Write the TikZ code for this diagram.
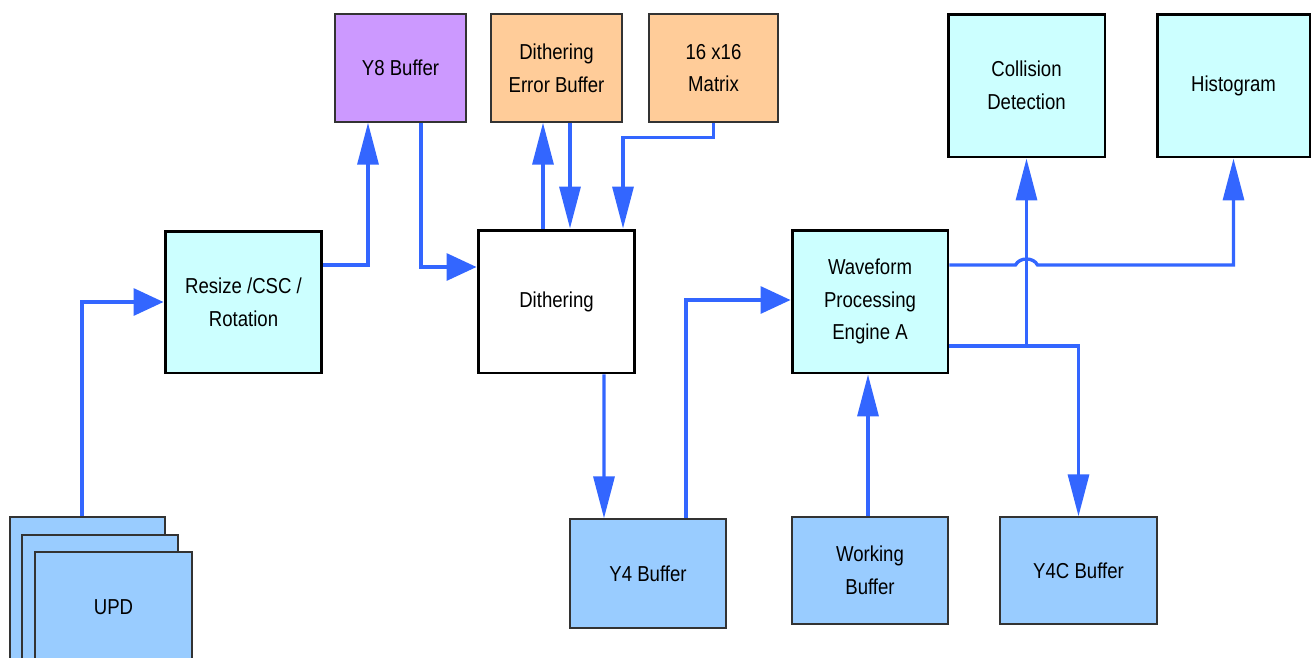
\documentclass[tikz,border=0pt]{standalone}
\usepackage{fontspec}
\setmainfont{Liberation Sans}[FakeStretch=0.86]
\usetikzlibrary{arrows.meta,calc}
\definecolor{lnblue}{HTML}{3366FF}
\definecolor{cybox}{HTML}{CCFFFF}
\definecolor{pubox}{HTML}{CC99FF}
\definecolor{orbox}{HTML}{FFCC99}
\definecolor{blbox}{HTML}{99CCFF}

\begin{document}
\begin{tikzpicture}[x=0.02cm,y=-0.02cm,
  bx/.style={draw=black,align=center,inner sep=0pt,font=\fontsize{12.3}{18.7}\selectfont},
  thk/.style={bx,line width=1.7pt},
  thn/.style={bx,line width=0.8pt,draw=black!80},
  con/.style={draw=lnblue,line width=1.9pt},
  cv/.style={con,-{Triangle[length=0.84cm,width=0.42cm]}},
  ch/.style={con,-{Triangle[length=0.6cm,width=0.54cm]}}]
  \clip (0,0) rectangle (1312,657);
  % stack of UPD buffers
  \node[thn,fill=blbox,minimum width=3.1cm,minimum height=3cm] (upd1) at (87.5,592) {};
  \node[thn,fill=blbox,minimum width=3.12cm,minimum height=3cm] (upd2) at (100,610) {};
  \node[thn,fill=blbox,minimum width=3.14cm,minimum height=2.2cm] (upd3) at (113.5,607) {UPD};
  % processing blocks
  \node[thk,fill=cybox,minimum width=3.14cm,minimum height=2.84cm] (resize) at (243.5,302) {Resize /CSC /\\Rotation};
  \node[thk,fill=white,minimum width=3.14cm,minimum height=2.86cm] (dith) at (556.5,301.5) {Dithering};
  \node[thk,fill=cybox,minimum width=3.12cm,minimum height=2.86cm] (wpe) at (870,301.5) {Waveform\\Processing\\Engine A};
  \node[thk,fill=cybox,minimum width=3.14cm,minimum height=2.86cm] (coll) at (1026.5,85.5) {Collision\\Detection};
  \node[thk,fill=cybox,minimum width=3.06cm,minimum height=2.86cm] (hist) at (1233.5,85.5) {Histogram};
  % buffers
  \node[thn,fill=pubox,minimum width=2.62cm,minimum height=2.16cm] (y8) at (400.5,68) {Y8 Buffer};
  \node[thn,fill=orbox,minimum width=2.62cm,minimum height=2.16cm] (deb) at (556.5,68) {Dithering\\Error Buffer};
  \node[thn,fill=orbox,minimum width=2.58cm,minimum height=2.16cm] (mtx) at (713.5,68) {16 x16\\Matrix};
  \node[thn,fill=blbox,minimum width=3.12cm,minimum height=2.18cm] (y4) at (648,573.5) {Y4 Buffer};
  \node[thn,fill=blbox,minimum width=3.12cm,minimum height=2.14cm] (wrk) at (870,570.5) {Working\\Buffer};
  \node[thn,fill=blbox,minimum width=3.14cm,minimum height=2.14cm] (y4c) at (1078.5,570.5) {Y4C Buffer};
  % connectors
  \draw[ch] ($(upd1.north)+(-5.5,0)$) |- (resize.west);
  \draw[cv] ($(resize.east)+(0,-37)$) -| ($(y8.south)+(-32.5,0)$);
  \draw[ch] ($(y8.south)+(20.5,0)$) |- ($(dith.west)+(0,-34.5)$);
  \draw[cv] ($(dith.north)+(-13.5,0)$) -- ($(deb.south)+(-13.5,0)$);
  \draw[cv] ($(deb.south)+(13.5,0)$) -- ($(dith.north)+(13.5,0)$);
  \draw[cv] (mtx.south) -- ++(0,15) -| ($(dith.north)+(66.5,0)$);
  \draw[cv] ($(dith.south)+(47.5,0)$) -- ($(y4.north)+(-44,0)$);
  \draw[ch] ($(y4.north)+(38,0)$) |- ($(wpe.west)+(0,-1.5)$);
  \draw[cv] ($(wrk.north)+(-2,0)$) -- ($(wpe.south)+(-2,0)$);
  \coordinate (wo) at ($(wpe.east)+(0,44.5)$);
  \coordinate (wh) at ($(wpe.east)+(0,-36.5)$);
  \draw[cv] (wo) -| (y4c.north);
  \draw[cv] (wo -| coll.south) -- (coll.south);
  \draw[cv] (wh) -- ($(wh -| coll.south)+(-11,0)$) .. controls +(4,-8) and +(-4,-8) .. ++(22,0) -| (hist.south);
\end{tikzpicture}
\end{document}
